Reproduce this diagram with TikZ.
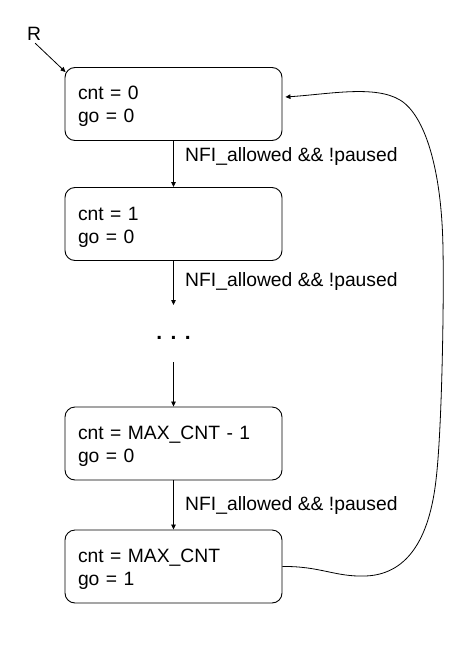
\documentclass[tikz,border=0pt]{standalone}
\usepackage{fontspec}
\setmainfont{Liberation Sans}
\usetikzlibrary{arrows.meta}
\begin{document}
\begin{tikzpicture}[x=1pt,y=-1pt,
  every node/.style={font=\fontsize{19.3}{23}\selectfont},
  state/.style={draw, line width=0.9pt, rounded corners=10pt, minimum width=217pt, minimum height=73pt, text width=191pt, inner xsep=13pt, inner ysep=0pt, align=left},
  edgearrow/.style={line width=0.8pt, -{Triangle[length=5pt,width=4.5pt]}},
  cond/.style={anchor=base west, inner sep=0pt}]
\useasboundingbox (0,0) rectangle (466,656);
\node[state] (b1) at (173.5,104) {\rule{0pt}{19pt}cnt = 0\\go = 0};
\node[state] (b2) at (173.5,224) {\rule{0pt}{19pt}cnt = 1\\go = 0};
\node[state] (b3) at (173.5,443.5) {\rule{0pt}{19pt}cnt = MAX\_CNT - 1\\go = 0};
\node[state] (b4) at (173.5,566.5) {\rule{0pt}{19pt}cnt = MAX\_CNT\\go = 1};
\node[inner sep=0pt, font=\fontsize{21}{23}\selectfont\bfseries] (dots) at (173.5,338) {.\hspace{8.5pt}.\hspace{8.5pt}.};
\node[cond] (R) at (27,40) {R};
\node[cond] (l1) at (185,161) {NFI\_allowed \&\& !paused};
\node[cond] (l2) at (185,286) {NFI\_allowed \&\& !paused};
\node[cond] (l3) at (185,510) {NFI\_allowed \&\& !paused};
\coordinate (c1) at (173.5,305);
\coordinate (c2) at (173.5,362);
\draw[edgearrow] ([xshift=1pt,yshift=-3pt]R.south) -- ([xshift=1pt,yshift=-5pt]b1.north west);
\draw[edgearrow] (b1) -- (b2);
\draw[edgearrow] (b2) -- (c1);
\draw[edgearrow] (c2) -- (b3);
\draw[edgearrow] (b3) -- (b4);
\draw[edgearrow] (b4.east) .. controls (320,566) and (335,577) .. (365,576)
  .. controls (400,575) and (428,550) .. (436,480)
  .. controls (442,430) and (444,300) .. (443,250)
  .. controls (442,170) and (425,115) .. (400,100)
  .. controls (375,85) and (330,94) .. ([xshift=3pt,yshift=7pt]b1.east);
\end{tikzpicture}
\end{document}
